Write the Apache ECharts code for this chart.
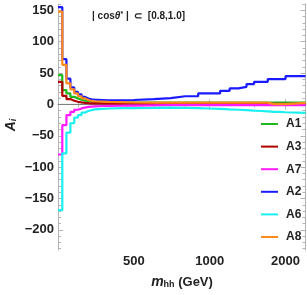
<!DOCTYPE html>
<html>
<head>
<meta charset="utf-8">
<script src="https://cdn.jsdelivr.net/npm/echarts@6/dist/echarts.min.js"></script>
<style>
  html, body { margin: 0; padding: 0; background: #fff; }
  #chart { width: 307px; height: 295px; }
</style>
</head>
<body>
<div id="chart"></div>
<script>
// bin edges in m_hh (GeV); last entry closes the final bin
const binEdges = [250,260,270,280,290,300,310,320,330,340,350,375,400,450,500,600,700,800,900,1000,1100,1200,1300,1400,1500,1600,1700,1800,1900,2000,2400];

const seriesNames = ['A1','A3','A7','A2','A6','A8'];
const A1 = [46.7,22.8,17.5,12,9.6,7.5,6,5,4.5,4,3.5,3.2,3,3,3,3,3,3,3,3,3,3,3,3,3,3,3,3,3,3];
const A3 = [36,13.7,8.5,5.8,4.2,3.2,2.5,2,1.8,1.6,1.5,1.3,1.2,1.1,1,1,1,1,1,1,1,1,1,1,1,1,1,1,1,1];
const A7 = [-79.8,-33,-17.2,-11.8,-8.5,-6.4,-5,-4,-3.5,-3,-2.5,-2.2,-2,-1.8,-1.5,-1.3,-1.2,-1,-1,-1,-1,-1,-1,-1,-1,-1,-1,-1,-1,-1];
const A2 = [155,72,41,27,20,16,12,9.5,8,7.5,7,6.5,6.5,7,8.5,10,13,13,17.5,17.5,21.7,25.5,28,32.4,36,36,40.4,40.4,40.4,45];
const A6 = [-168.6,-78,-45,-30,-21,-17,-13,-10.5,-9,-8,-7,-6.5,-6,-6,-5.5,-5,-5.5,-6,-6.5,-7,-8,-8.5,-9,-10,-10.5,-11,-12,-12,-12.5,-13.4];
const A8 = [148,63,33.5,24,17.5,13,9.6,7,5.5,5,4.5,4,3.5,3.2,3,3,2.8,2.8,2.8,2.8,2.8,2.8,2.8,2.8,2.8,2.8,0.5,0.5,0.5,2.5];

const xMajorTicks = [500,1000,2000];
const xMinorTicks = [300,400,600,700,800,1500];
const yMajorTicks = [-200,-150,-100,-50,0,50,100,150];
const yMinorTicks = [-230,-220,-210,-190,-180,-170,-160,-140,-130,-120,-110,-90,-80,-70,-60,-40,-30,-20,-10,10,20,30,40,60,70,80,90,110,120,130,140,160];

const colors = { A1:'#1fb81f', A3:'#b00000', A7:'#ff1aff', A2:'#1a1aff', A6:'#1af0f0', A8:'#ff8a1a' };
const values = { A1, A3, A7, A2, A6, A8 };

function stepData(vals) {
  const d = vals.map((v, i) => [binEdges[i], v]);
  d.push([binEdges[binEdges.length - 1], vals[vals.length - 1]]);
  return d;
}

const frameColor = '#b4b4b4';
const FONT = 'Liberation Sans, Arial, sans-serif';
const xRange = { min: 250, max: 2400 };
const yRange = { min: -232, max: 160 };

function xAx(pos, ticks, len, labels, line) {
  return {
    type: 'log', logBase: 10, position: pos, min: xRange.min, max: xRange.max,
    axisLine: { show: line, lineStyle: { color: frameColor, width: 1 } },
    axisTick: { show: true, inside: true, length: len, customValues: ticks, lineStyle: { color: frameColor } },
    axisLabel: labels ? { show: true, customValues: ticks, margin: 5, color: '#222', fontSize: 13, fontWeight: 'bold', fontFamily: FONT,
      formatter: v => String(Math.round(v)) } : { show: false },
    splitLine: { show: false }, minorTick: { show: false }
  };
}
function yAx(pos, ticks, len, labels, line) {
  return {
    type: 'value', position: pos, min: yRange.min, max: yRange.max,
    axisLine: { show: line, onZero: false, lineStyle: { color: frameColor, width: 1 } },
    axisTick: { show: true, inside: true, length: len, customValues: ticks, lineStyle: { color: frameColor } },
    axisLabel: labels ? { show: true, customValues: ticks, margin: 4, color: '#222', fontSize: 13, fontWeight: 'bold', fontFamily: FONT,
      formatter: v => (v < 0 ? '\u2212' + Math.abs(v) : String(v)) } : { show: false },
    splitLine: { show: false }
  };
}

const series = [{
  name: 'zero', type: 'line', data: [[xRange.min, 0], [xRange.max, 0]],
  symbol: 'none', lineStyle: { color: '#7a7a7a', width: 1 }, z: 1, silent: true
}];
seriesNames.forEach(n => {
  series.push({
    name: n, type: 'line', step: 'end', data: stepData(values[n]),
    symbol: 'none', showSymbol: false, color: colors[n],
    lineStyle: { color: colors[n], width: 2.2 }, z: 2
  });
});

const chart = echarts.init(document.getElementById('chart'), null, { renderer: 'canvas' });
chart.setOption({
  animation: false,
  backgroundColor: '#fff',
  grid: { left: 58, right: 1.5, top: 4, bottom: 45, containLabel: false },
  xAxis: [
    xAx('bottom', xMajorTicks, 5, true, true),
    xAx('bottom', xMinorTicks, 3, false, false),
    xAx('top', xMajorTicks, 5, false, true),
    xAx('top', xMinorTicks, 3, false, false)
  ],
  yAxis: [
    yAx('left', yMajorTicks, 5, true, true),
    yAx('left', yMinorTicks, 3, false, false),
    yAx('right', yMajorTicks, 5, false, true),
    yAx('right', yMinorTicks, 3, false, false)
  ],
  legend: {
    data: seriesNames, orient: 'vertical', left: 261, top: 117,
    icon: 'rect', itemWidth: 17, itemHeight: 2, itemGap: 8.6, padding: 0,
    textStyle: { fontSize: 12, fontWeight: 'bold', color: '#222', fontFamily: FONT, lineHeight: 14, padding: [0,0,0,3] },
    selectedMode: false
  },
  graphic: [
    { type: 'text', x: 92, y: 16, style: {
        text: '{n|| cos}{i|θ}{s|*}{n| |  ⊂  [0.8,1.0]}',
        verticalAlign: 'middle',
        rich: {
          n: { fontSize: 10, fontWeight: 'bold', fontFamily: FONT, fill: '#222' },
          i: { fontSize: 10, fontWeight: 'bold', fontStyle: 'italic', fontFamily: FONT, fill: '#222' },
          s: { fontSize: 7, fontWeight: 'bold', fontFamily: FONT, fill: '#222', verticalAlign: 'top', padding: [0,0,4,0] }
        } } },
    { type: 'text', x: 11, y: 125, rotation: Math.PI / 2, style: {
        text: '{a|A}{b|i}', align: 'center', verticalAlign: 'middle',
        rich: {
          a: { fontSize: 14, fontWeight: 'bold', fontStyle: 'italic', fontFamily: FONT, fill: '#222' },
          b: { fontSize: 9, fontWeight: 'bold', fontStyle: 'italic', fontFamily: FONT, fill: '#222', padding: [6,0,0,0] }
        } } },
    { type: 'text', x: 182, y: 282, style: {
        text: '{a|m}{b|hh}{c| (GeV)}', align: 'center', verticalAlign: 'middle',
        rich: {
          a: { fontSize: 14, fontWeight: 'bold', fontStyle: 'italic', fontFamily: FONT, fill: '#222' },
          b: { fontSize: 9, fontWeight: 'bold', fontFamily: FONT, fill: '#222', padding: [6,0,0,0] },
          c: { fontSize: 13, fontWeight: 'bold', fontFamily: FONT, fill: '#222' }
        } } }
  ],
  series: series
});
</script>
</body>
</html>
